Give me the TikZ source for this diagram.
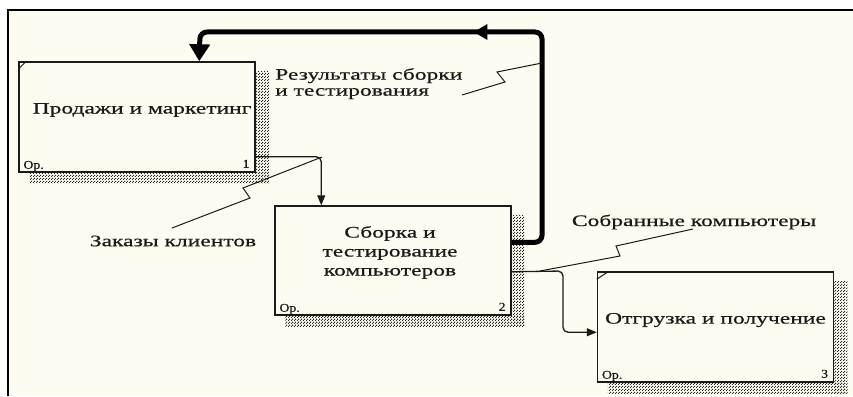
\documentclass[tikz,border=0pt]{standalone}
\usepackage{fontspec}
\setmainfont{Liberation Serif}[FakeStretch=1.47,FakeBold=0.6]
\newfontfamily\tagfont{Liberation Serif}[FakeStretch=1.15,FakeBold=0.6]
\usetikzlibrary{arrows.meta,patterns,backgrounds,decorations.markings,calc}
\definecolor{paper}{HTML}{FEFCF0}
\definecolor{ink}{HTML}{1A1A1A}

% diagonal checker used for the box shadows
\pgfdeclarepatternformonly{idefshade}{\pgfpointorigin}{\pgfpoint{3pt}{3pt}}{\pgfpoint{3pt}{3pt}}{%
  \pgfpathrectangle{\pgfpointorigin}{\pgfpoint{1.3pt}{1.3pt}}%
  \pgfpathrectangle{\pgfpoint{1.5pt}{1.5pt}}{\pgfpoint{1.3pt}{1.3pt}}%
  \pgfusepath{fill}}

\begin{document}
\begin{tikzpicture}[x=1pt,y=-1pt,
  fnbox/.style={draw=ink,line width=1.5pt,fill=paper,minimum width=236pt,minimum height=110pt,inner sep=0pt},
  lbl/.style={font=\fontsize{16}{16}\selectfont,inner sep=0pt,text=ink},
  tag/.style={font=\tagfont\fontsize{12}{13}\selectfont,inner sep=0pt,text=ink},
  flow/.style={draw=ink,line width=1.3pt,rounded corners=5pt,-{Triangle[width=8pt,length=10pt]}},
  feedback/.style={draw=black,line width=5pt,rounded corners=7pt,-{Triangle[width=20pt,length=17pt]}},
  squig/.style={draw=ink,line width=1pt},
  shade/.style={pattern=idefshade,pattern color=black!85},
  notch/.style={draw=ink,line width=1pt}
]
\useasboundingbox (0,0) rectangle (853,396);

% activity boxes
\node[fnbox] (b1) at (137,117) {};
\node[fnbox,minimum height=109pt] (b3) at (393,260.5) {};
\node[fnbox] (b2) at (715.5,327) {};

% sheet, frame background and box shadows
\begin{pgfonlayer}{background}
  \fill[white] (0,0) rectangle (853,396);
  \fill[paper] (8,10) rectangle (853,396);
  \foreach \b in {b1,b3,b2}{
    \fill[shade] ($(\b.north east)+(0,10)$) rectangle ($(\b.south east)+(13,11)$);
    \fill[shade] ($(\b.south west)+(11,0)$) rectangle ($(\b.south east)+(13,11)$);
  }
\end{pgfonlayer}

% frame edges
\draw[black,line width=2pt] (8,396) -- (8,10) -- (853,10);

% corner notches
\draw[notch] ($(b1.north west)+(0,8)$) -- ($(b1.north west)+(8,0)$);
\draw[notch] ($(b2.north west)+(0,8)$) -- ($(b2.north west)+(12,0)$);

% box titles
\node[lbl] (t1) at ($(b1.center)+(5,-7)$) {Продажи и маркетинг};
\node[lbl,align=center,font=\fontsize{16}{19}\selectfont] (t3) at ($(b3.center)+(-3,-8)$) {Сборка и\\тестирование\\компьютеров};
\node[lbl] (t2) at ($(b2.center)+(0,-7)$) {Отгрузка и получение};

% box tags
\node[tag,anchor=base west] (o1) at ($(b1.south west)+(5,-4)$) {Ор.};
\node[tag,anchor=base east] (n1) at ($(b1.south east)+(-6,-5)$) {1};
\node[tag,anchor=base west] (o3) at ($(b3.south west)+(5,-4)$) {Ор.};
\node[tag,anchor=base east] (n3) at ($(b3.south east)+(-6,-5)$) {2};
\node[tag,anchor=base west] (o2) at ($(b2.south west)+(5,-4)$) {Ор.};
\node[tag,anchor=base east] (n2) at ($(b2.south east)+(-6,-5)$) {3};

% arrow labels
\node[lbl,anchor=north west,align=left] (lr) at (275,68) {Результаты сборки\\и тестирования};
\node[lbl] (lz) at (173,241) {Заказы клиентов};
\node[lbl] (ls) at (694,222) {Собранные компьютеры};

% connectors
\coordinate (zk) at ($(b3.north west)+(47,0)$);
\draw[flow] ($(b1.south east)+(0,-16)$) -| (zk);

\coordinate (fr) at (542,32);
\coordinate (fl) at (200,32);
\draw[feedback,
  decoration={markings,mark=at position 303pt with {\arrow{Triangle[width=15pt,length=14pt]}}},
  postaction={decorate}]
  ($(b3.north east)+(0,37)$) -| (fr) -- (fl) -- ($(b1.north west)+(181,0)$);

\coordinate (kb) at (563,271);
\draw[flow] ($(b3.south east)+(0,-44)$) -- (kb) |- ($(b2.north west)+(0,61)$);

% label leaders
\draw[squig] (322,157) -- (243,188) -- (250,198) -- (172,228);
\draw[squig] (542,63) -- (497,72) -- (505,82) -- (462,95);
\draw[squig] (540,271) -- (620,256) -- (616,246) -- (693,229);
\end{tikzpicture}
\end{document}
